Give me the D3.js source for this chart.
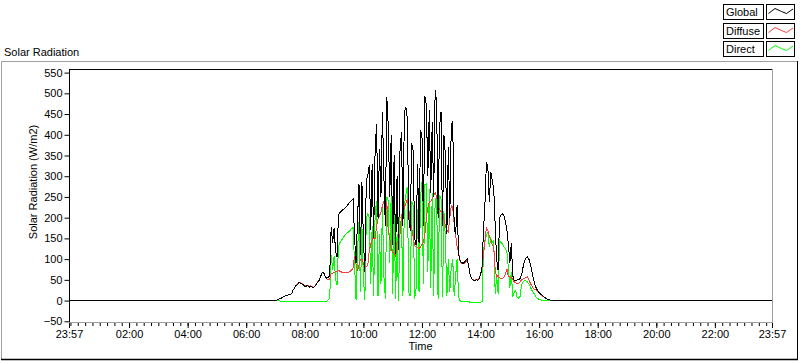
<!DOCTYPE html>
<html><head><meta charset="utf-8">
<script src="https://cdn.jsdelivr.net/npm/d3@7/dist/d3.min.js"></script>
<style>
html,body{margin:0;padding:0;background:#ffffff;}
svg{display:block;font-family:"Liberation Sans",Arial,sans-serif;font-size:11px;}
</style></head><body>
<svg id="chart" width="800" height="361"></svg>
<script>
// ---------------- data ----------------
const chartTitle = "Solar Radiation";
const yAxisTitle = "Solar Radiation (W/m2)";
const xAxisTitle = "Time";
const seriesNames = ["Global", "Diffuse", "Direct"];
const seriesColors = ["#000000", "#ff3c3c", "#00ff00"];
const yTickValues = [-50, 0, 50, 100, 150, 200, 250, 300, 350, 400, 450, 500, 550];
const xTickLabels = ["23:57", "02:00", "04:00", "06:00", "08:00", "10:00", "12:00", "14:00", "16:00", "18:00", "20:00", "22:00", "23:57"];
const axisStart = "1999-12-31 23:57";
const axisEnd = "2000-01-01 23:57";
const dataStart = "2000-01-01 07:00";   // first sample of the daylight record
const stepMinutes = 3;                   // sampling interval of the record
const nightValue = 0;                    // value outside the daylight record

const globalVals = [
  0,1,3,5,6,8,10,12,13,14,
  15,17,25,31,36,39,43,42,40,38,
  34,35,36,32,35,33,31,35,40,45,
  50,60,68,66,58,54,55,60,177,140,
  175,120,105,208,212,216,219,222,225,229,
  234,238,241,245,150,90,200,280,110,285,
  150,70,290,300,326,170,330,150,360,426,
  200,366,250,454,300,180,490,420,250,400,
  133,350,113,300,121,360,406,180,455,467,
  440,200,169,380,360,150,133,330,140,412,
  400,180,494,470,300,460,260,430,250,509,
  480,200,420,454,180,400,350,160,370,200,
  422,434,174,160,230,113,97,92,90,92,
  97,100,80,60,52,49,48,50,49,52,
  62,80,169,233,334,320,237,310,290,270,
  180,100,73,200,206,209,205,190,169,137,
  90,140,60,49,48,50,51,53,62,80,
  95,103,105,100,88,72,55,40,30,24,
  19,16,13,9,7,5,3,2,1,0,0
];
const diffuseVals = [
  0,1,3,5,6,8,10,12,13,14,
  15,17,25,31,36,40,44,43,41,39,
  35,36,37,33,36,33,32,36,41,46,
  51,60,68,66,58,53,50,52,65,66,
  68,70,70,72,71,69,68,68,67,68,
  69,71,73,80,108,88,72,85,100,100,
  90,82,82,85,120,135,148,150,150,180,
  198,205,212,229,240,210,237,165,150,125,
  117,115,105,141,145,160,205,212,225,235,
  245,220,190,173,155,133,130,128,125,130,
  135,140,160,200,225,237,240,245,253,261,
  250,230,220,213,215,195,181,170,165,200,
  229,225,185,157,130,117,95,89,88,90,
  94,98,80,61,53,50,49,51,50,53,
  63,78,110,145,176,170,155,148,135,129,
  75,57,62,55,53,53,56,65,77,57,
  57,55,52,45,43,41,42,45,50,52,
  53,56,57,50,42,35,30,27,25,22,
  18,15,12,9,7,5,3,2,1,0,0
];
const directVals = [
  0,0,-1,-1,-2,-2,-2,-2,-2,-2,
  -3,-3,-3,-3,-3,-3,-3,-3,-3,-3,
  -3,-3,-3,-3,-3,-3,-3,-3,-3,-3,
  -3,-2,-2,-2,-2,-2,2,5,110,75,
  107,52,38,132,140,146,150,156,160,163,
  166,170,174,176,85,2,120,190,20,180,
  55,2,200,210,200,40,180,10,205,240,
  10,160,40,225,60,5,250,240,90,260,
  15,235,5,160,0,200,200,10,230,255,
  275,20,10,240,230,5,30,220,20,250,
  285,40,280,282,70,270,30,260,10,245,
  250,5,255,245,8,215,150,10,100,20,
  80,100,10,60,100,10,0,-3,-3,-3,
  -3,-3,-3,-4,-4,-4,-4,-4,-4,-4,
  -4,-2,121,140,157,165,130,150,140,145,
  17,60,17,145,140,137,130,125,117,80,
  30,70,8,20,25,8,6,10,38,45,
  49,47,45,40,33,25,20,14,8,5,
  3,2,0,0,0,0,0,0,0,0,0
];
const seriesValues = [globalVals, diffuseVals, directVals];

// ---------------- layout ----------------
const W = 800, H = 361;
const plot = {left: 69, top: 69, right: 772, bottom: 322};
const svg = d3.select("#chart");
const parse = d3.timeParse("%Y-%m-%d %H:%M");
const t0 = parse(axisStart), t1 = parse(axisEnd), tData = parse(dataStart);

const x = d3.scaleTime().domain([t0, t1]).range([plot.left, plot.right]);
const y = d3.scaleLinear().domain([-50, 550]).range([321.3, 72.6]);

// outer frame
svg.append("rect").attr("x", 0).attr("y", 0).attr("width", W).attr("height", H).attr("fill", "#ffffff");
svg.append("line").attr("x1", 1.5).attr("y1", 61.5).attr("x2", 797.5).attr("y2", 61.5).attr("stroke", "#a0a0a0");
svg.append("line").attr("x1", 1.5).attr("y1", 61.5).attr("x2", 1.5).attr("y2", 359.5).attr("stroke", "#a0a0a0");
svg.append("line").attr("x1", 1).attr("y1", 359.5).attr("x2", 798).attr("y2", 359.5).attr("stroke", "#000").attr("stroke-width", 1.5);
svg.append("line").attr("x1", 797.5).attr("y1", 61).attr("x2", 797.5).attr("y2", 360).attr("stroke", "#000");

// title
svg.append("text").attr("x", 4).attr("y", 56).attr("fill", "#000").text(chartTitle);

// plot background
svg.append("rect").attr("x", plot.left).attr("y", plot.top)
  .attr("width", plot.right - plot.left).attr("height", plot.bottom - plot.top).attr("fill", "#ffffff");

// clip
svg.append("clipPath").attr("id", "pc").append("rect")
  .attr("x", plot.left + 1).attr("y", plot.top + 1)
  .attr("width", plot.right - plot.left - 1).attr("height", plot.bottom - plot.top - 1);

// series data
function buildSeries(vals) {
  const pts = [{t: t0, v: nightValue}];
  vals.forEach((v, i) => pts.push({t: d3.timeMinute.offset(tData, i * stepMinutes), v: v}));
  pts.push({t: t1, v: nightValue});
  return pts;
}
const line = d3.line().x(d => x(d.t)).y(d => y(d.v));
const g = svg.append("g").attr("clip-path", "url(#pc)");
// draw Direct, Diffuse, then Global on top
[2, 1, 0].forEach(k => {
  g.append("path").datum(buildSeries(seriesValues[k]))
    .attr("d", line).attr("fill", "none")
    .attr("stroke", seriesColors[k]).attr("stroke-width", 1)
    .attr("shape-rendering", "crispEdges");
});

// plot frame: top/left dark, bottom/right gray
svg.append("line").attr("x1", plot.left).attr("y1", plot.top + 0.5).attr("x2", plot.right).attr("y2", plot.top + 0.5).attr("stroke", "#000");
svg.append("line").attr("x1", plot.left + 0.5).attr("y1", plot.top).attr("x2", plot.left + 0.5).attr("y2", plot.bottom).attr("stroke", "#000");
svg.append("line").attr("x1", plot.left).attr("y1", plot.bottom + 0.5).attr("x2", plot.right + 1).attr("y2", plot.bottom + 0.5).attr("stroke", "#a0a0a0");
svg.append("line").attr("x1", plot.right + 0.5).attr("y1", plot.top).attr("x2", plot.right + 0.5).attr("y2", plot.bottom + 1).attr("stroke", "#a0a0a0");

// y axis
const yAxis = d3.axisLeft(y).tickValues(yTickValues).tickSize(5).tickPadding(2).tickFormat(d3.format("d"));
const ya = svg.append("g").attr("transform", `translate(${plot.left + 0.5},0)`).call(yAxis);
ya.select(".domain").remove();
ya.selectAll("text").attr("font-size", 11).attr("font-family", "Liberation Sans, Arial, sans-serif").attr("fill", "#000");
ya.selectAll("line").attr("stroke", "#000");

// x axis: major ticks at labelled times, minor every 15 minutes
const hm = d3.timeParse("%H:%M");
const majorTimes = xTickLabels.map((s, i) => {
  if (i === 0) return t0;
  if (i === xTickLabels.length - 1) return t1;
  const p = hm(s);
  return new Date(2000, 0, 1, p.getHours(), p.getMinutes());
});
const minorTimes = d3.timeMinute.every(15).range(t0, t1);
const xMinor = d3.axisBottom(x).tickValues(minorTimes).tickSize(3).tickFormat("");
const xm = svg.append("g").attr("transform", `translate(0,${plot.bottom + 1})`).call(xMinor);
xm.select(".domain").remove();
xm.selectAll("line").attr("stroke", "#000");
const xMajor = d3.axisBottom(x).tickValues(majorTimes).tickSize(5).tickPadding(2)
  .tickFormat((d, i) => xTickLabels[i]);
const xa = svg.append("g").attr("transform", `translate(0,${plot.bottom + 1})`).call(xMajor);
xa.select(".domain").remove();
xa.selectAll("line").attr("stroke", "#000");
xa.selectAll("text").attr("font-size", 11).attr("font-family", "Liberation Sans, Arial, sans-serif").attr("fill", "#000");

// axis titles
svg.append("text").attr("x", (plot.left + plot.right) / 2).attr("y", 350)
  .attr("text-anchor", "middle").attr("fill", "#000").text(xAxisTitle);
svg.append("text").attr("transform", "translate(37,182) rotate(-90)")
  .attr("text-anchor", "middle").attr("fill", "#000").text(yAxisTitle);

// legend
const lg = svg.append("g");
lg.append("rect").attr("x", 720).attr("y", 0).attr("width", 77).attr("height", 58).attr("fill", "#ffffff");
seriesNames.forEach((name, i) => {
  const y0 = 4 + i * 18.5;
  const row = lg.append("g").attr("transform", `translate(0,${Math.round(y0)})`);
  row.append("rect").attr("x", 723.5).attr("y", 0.5).attr("width", 40).attr("height", 15)
    .attr("fill", "#fff").attr("stroke", "#000");
  row.append("text").attr("x", 726).attr("y", 12).attr("fill", "#000").text(name);
  row.append("rect").attr("x", 766.5).attr("y", 0.5).attr("width", 28).attr("height", 15)
    .attr("fill", "#fff").attr("stroke", "#000");
  const zig = [[768.5, 9.5], [775, 4.5], [781.5, 7.5], [786.5, 9.5], [793, 5]];
  row.append("path").attr("d", d3.line()(zig)).attr("fill", "none")
    .attr("stroke", seriesColors[i]).attr("stroke-width", 1);
});
</script>
</body></html>
